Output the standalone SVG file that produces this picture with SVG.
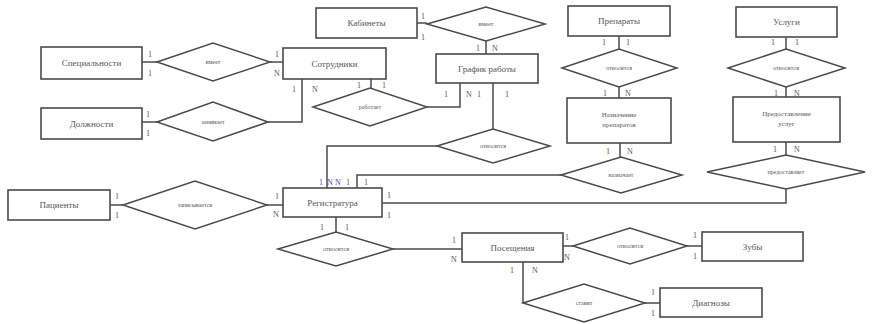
<svg xmlns="http://www.w3.org/2000/svg" width="873" height="324" viewBox="0 0 873 324">
<style>
.e{fill:#fff;stroke:#4a4a4a;stroke-width:1.6}
.r{fill:#fff;stroke:#4a4a4a;stroke-width:1.5}
.c{fill:none;stroke:#4a4a4a;stroke-width:1.5}
.t{font-family:"Liberation Serif",serif;font-size:9px;fill:#555;text-anchor:middle}
.s{font-family:"Liberation Serif",serif;font-size:6px;fill:#555;text-anchor:middle}
.n{font-family:"Liberation Serif",serif;font-size:8px;fill:#555;text-anchor:middle}
.b{fill:#44a}
</style>
<rect width="873" height="324" fill="#fff"/>
<g id="connectors">
<polyline class="c" points="142,62 157,62"/>
<polyline class="c" points="270,62 283,62"/>
<polyline class="c" points="142,122 157,122"/>
<polyline class="c" points="268,122 302,122 302,79"/>
<polyline class="c" points="371,79 371,88"/>
<polyline class="c" points="427,107 460,107 460,83"/>
<polyline class="c" points="417,23 427,23"/>
<polyline class="c" points="486,41 486,54"/>
<polyline class="c" points="493,83 493,129"/>
<polyline class="c" points="437,146 327,146 327,188"/>
<polyline class="c" points="619,36 619,49"/>
<polyline class="c" points="619,87 619,98"/>
<polyline class="c" points="786,37 786,49"/>
<polyline class="c" points="786,87 786,97"/>
<polyline class="c" points="620,143 620,157"/>
<polyline class="c" points="786,142 786,155"/>
<polyline class="c" points="561,175 357,175 357,188"/>
<polyline class="c" points="786,189 786,203 382,203"/>
<polyline class="c" points="110,205 123,205"/>
<polyline class="c" points="267,205 283,205"/>
<polyline class="c" points="336,217 336,232"/>
<polyline class="c" points="393,249 462,249"/>
<polyline class="c" points="563,246 573,246"/>
<polyline class="c" points="687,246 702,246"/>
<polyline class="c" points="523,262 523,303"/>
<polyline class="c" points="645,303 660,303"/>
</g>
<g id="cardinalities">
<text class="n" x="150" y="57">1</text><text class="n" x="150" y="76">1</text>
<text class="n" x="277" y="57">1</text><text class="n" x="277" y="76">N</text>
<text class="n" x="148" y="117">1</text><text class="n" x="148" y="136">1</text>
<text class="n" x="294" y="92">1</text><text class="n" x="315" y="92">N</text>
<text class="n" x="359" y="88">1</text><text class="n" x="384" y="88">1</text>
<text class="n" x="423" y="19">1</text><text class="n" x="423" y="40">1</text>
<text class="n" x="478" y="51">1</text><text class="n" x="495" y="51">N</text>
<text class="n" x="446" y="97">1</text><text class="n" x="469" y="97">N</text><text class="n" x="479" y="97">1</text><text class="n" x="507" y="97">1</text>
<text class="n" x="604" y="45">1</text><text class="n" x="628" y="45">1</text>
<text class="n" x="605" y="96">1</text><text class="n" x="628" y="96">N</text>
<text class="n" x="773" y="45">1</text><text class="n" x="797" y="45">1</text>
<text class="n" x="776" y="96">1</text><text class="n" x="797" y="96">N</text>
<text class="n" x="608" y="154">1</text><text class="n" x="630" y="154">N</text>
<text class="n" x="775" y="152">1</text><text class="n" x="797" y="152">N</text>
<text class="n b" x="321" y="185">1</text><text class="n b" x="330" y="185">N</text><text class="n b" x="338" y="185">N</text>
<text class="n" x="348" y="185">1</text><text class="n" x="366" y="185">1</text>
<text class="n" x="389" y="198">1</text><text class="n" x="389" y="218">1</text>
<text class="n" x="117" y="199">1</text><text class="n" x="117" y="218">1</text>
<text class="n" x="277" y="199">1</text><text class="n" x="276" y="217">N</text>
<text class="n" x="322" y="230">1</text><text class="n" x="347" y="230">1</text>
<text class="n" x="454" y="243">1</text><text class="n" x="454" y="262">N</text>
<text class="n" x="567" y="240">1</text><text class="n" x="567" y="260">N</text>
<text class="n" x="512" y="273">1</text><text class="n" x="535" y="273">N</text>
<text class="n" x="695" y="238">1</text><text class="n" x="695" y="259">1</text>
<text class="n" x="653" y="295">1</text><text class="n" x="653" y="316">1</text>
</g>
<g id="e-spec"><rect class="e" x="41" y="47" width="101" height="32"/><text class="t" x="91.5" y="66">Специальности</text></g>
<g id="e-sotr"><rect class="e" x="283" y="48" width="103" height="31"/><text class="t" x="334.5" y="67">Сотрудники</text></g>
<g id="e-dolzh"><rect class="e" x="41" y="108" width="101" height="31"/><text class="t" x="91.5" y="127">Должности</text></g>
<g id="e-kab"><rect class="e" x="316" y="8" width="101" height="30"/><text class="t" x="366.5" y="26">Кабинеты</text></g>
<g id="e-graf"><rect class="e" x="436" y="54" width="102" height="29"/><text class="t" x="487" y="72">График работы</text></g>
<g id="e-prep"><rect class="e" x="568" y="6" width="102" height="30"/><text class="t" x="619" y="24">Препараты</text></g>
<g id="e-usl"><rect class="e" x="736" y="7" width="101" height="30"/><text class="t" x="786.5" y="25">Услуги</text></g>
<g id="e-nazn"><rect class="e" x="567" y="98" width="104" height="45"/><text class="s" x="619" y="117" style="font-size:7px">Назначение</text><text class="s" x="619" y="127" style="font-size:7px">препаратов</text></g>
<g id="e-pred"><rect class="e" x="733" y="97" width="107" height="45"/><text class="s" x="786.5" y="116" style="font-size:7px">Предоставление</text><text class="s" x="786.5" y="126" style="font-size:7px">услуг</text></g>
<g id="e-pac"><rect class="e" x="8" y="190" width="102" height="30"/><text class="t" x="59" y="208">Пациенты</text></g>
<g id="e-reg"><rect class="e" x="283" y="188" width="99" height="29"/><text class="t" x="332.5" y="206">Регистратура</text></g>
<g id="e-pos"><rect class="e" x="462" y="233" width="101" height="29"/><text class="t" x="512.5" y="251">Посещения</text></g>
<g id="e-zub"><rect class="e" x="702" y="232" width="101" height="29"/><text class="t" x="752.5" y="250">Зубы</text></g>
<g id="e-diag"><rect class="e" x="660" y="288" width="102" height="29"/><text class="t" x="711" y="306">Диагнозы</text></g>
<g id="r-imeet1"><polygon class="r" points="157,62 213,43 270,62 213,81"/><text class="s" x="213" y="64">имеет</text></g>
<g id="r-zanim"><polygon class="r" points="157,122 213,102 268,122 213,141"/><text class="s" x="213" y="124">занимает</text></g>
<g id="r-rabot"><polygon class="r" points="313,107 370,88 427,107 370,126"/><text class="s" x="370" y="109">работает</text></g>
<g id="r-imeet2"><polygon class="r" points="427,24 486,7 545,24 486,41"/><text class="s" x="486" y="26">имеет</text></g>
<g id="r-otn1"><polygon class="r" points="562,68 619,49 677,68 619,87"/><text class="s" x="619" y="70">относится</text></g>
<g id="r-otn2"><polygon class="r" points="728,68 786,49 845,68 786,87"/><text class="s" x="786" y="70">относится</text></g>
<g id="r-otn3"><polygon class="r" points="437,146 493,129 550,146 493,163"/><text class="s" x="493" y="148">относится</text></g>
<g id="r-nazn"><polygon class="r" points="561,175 621,157 682,175 621,193"/><text class="s" x="621" y="177">назначает</text></g>
<g id="r-pred"><polygon class="r" points="707,172 786,155 865,172 786,189"/><text class="s" x="786" y="174">предоставляет</text></g>
<g id="r-zap"><polygon class="r" points="123,205 195,181 267,205 195,229"/><text class="s" x="195" y="207">записывается</text></g>
<g id="r-otn4"><polygon class="r" points="278,249 336,232 393,249 336,266"/><text class="s" x="336" y="251">относится</text></g>
<g id="r-otn5"><polygon class="r" points="573,246 630,228 687,246 630,264"/><text class="s" x="630" y="248">относится</text></g>
<g id="r-stav"><polygon class="r" points="523,303 584,284 645,303 584,322"/><text class="s" x="584" y="305">ставит</text></g>
</svg>
